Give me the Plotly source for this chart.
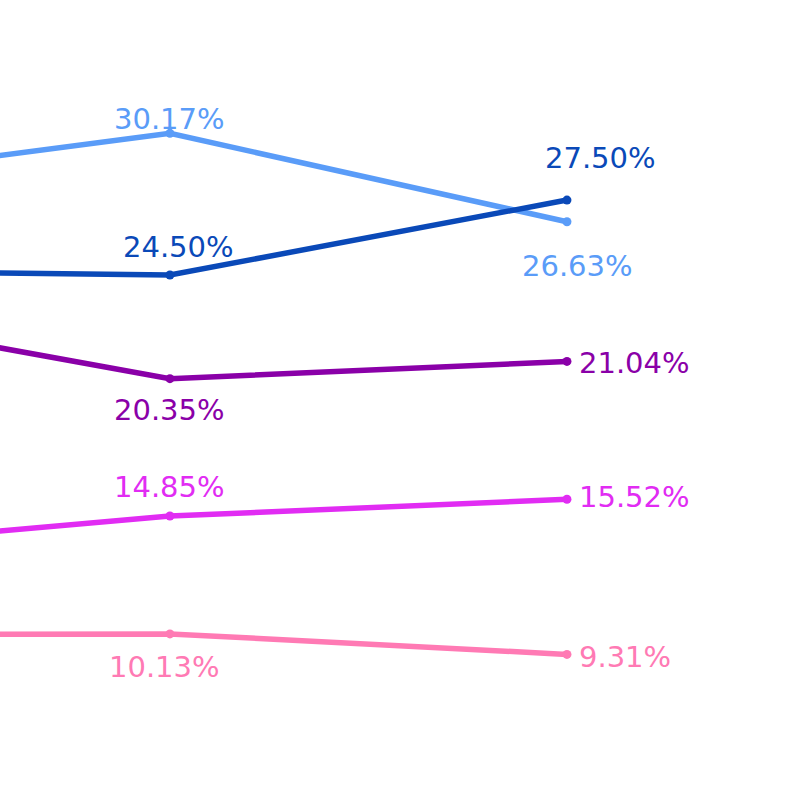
import plotly.graph_objects as go

# data
periods = ["P0", "P1", "P2"]
light_blue = [28.10, 30.17, 26.63]
dark_blue = [24.68, 24.50, 27.50]
purple = [23.23, 20.35, 21.04]
magenta = [13.45, 14.85, 15.52]
pink = [10.10, 10.13, 9.31]

series = [
    (light_blue, "#5a9cf8"),
    (dark_blue, "#0a49b8"),
    (purple, "#8a00a8"),
    (magenta, "#e12cf3"),
    (pink, "#ff7ab4"),
]

# label offsets (xshift, yshift, xanchor) for points 1 and 2 of each series
label_style = [
    [(0, 14, "center"), (11, -44, "center")],
    [(9, 28, "center"), (34, 42, "center")],
    [(0, -31, "center"), (10, -2, "left")],
    [(0, 29, "center"), (10, 2, "left")],
    [(-5, -33, "center"), (10, -3, "left")],
]

fig = go.Figure()
annotations = []
for (vals, col), styles in zip(series, label_style):
    fig.add_trace(go.Scatter(
        x=periods, y=vals, mode="lines+markers",
        line=dict(color=col, width=5.5),
        marker=dict(color=col, size=9),
        showlegend=False, cliponaxis=False, hoverinfo="skip",
    ))
    for i, (xs, ys, xa) in zip([1, 2], styles):
        annotations.append(dict(
            x=periods[i], y=vals[i], text=f"{vals[i]:.2f}%",
            showarrow=False, xshift=xs, yshift=ys, xanchor=xa,
            font=dict(family="DejaVu Sans", size=29, color=col),
        ))

fig.update_layout(
    width=800, height=800,
    margin=dict(l=0, r=0, t=0, b=0),
    paper_bgcolor="white", plot_bgcolor="white",
    xaxis=dict(range=[0.572, 2.587], visible=False),
    yaxis=dict(range=[3.48, 35.51], visible=False),
    annotations=annotations,
)

fig.write_html("out.html", config={"displayModeBar": False},
               post_script="document.body.style.margin='0';")
